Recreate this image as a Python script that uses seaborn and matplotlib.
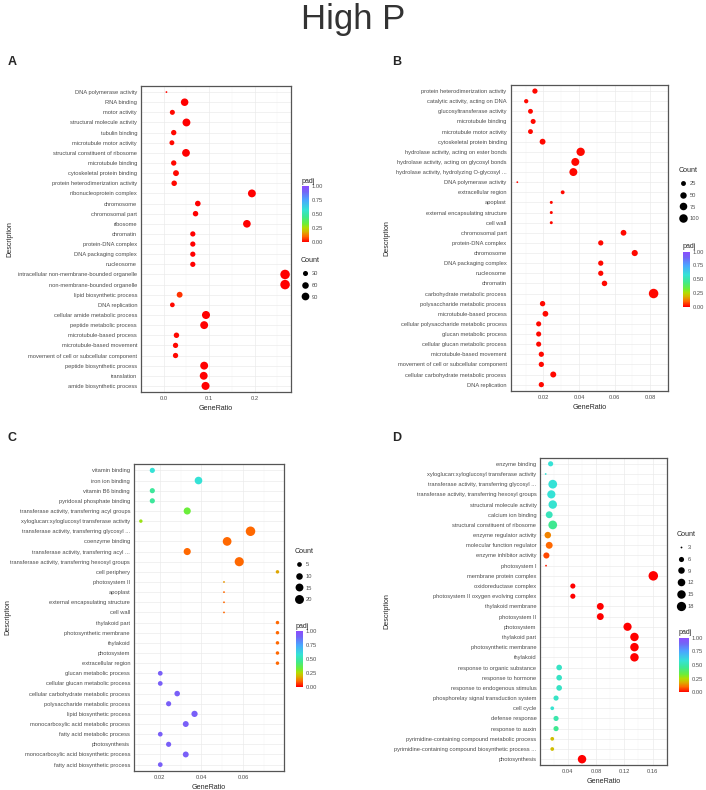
import numpy as np
import pandas as pd
import matplotlib
matplotlib.use("Agg")
import matplotlib.pyplot as plt
import seaborn as sns
from matplotlib.colors import LinearSegmentedColormap, Normalize
from matplotlib.lines import Line2D

# ---------------- data ----------------
a_terms = ["DNA polymerase activity", "RNA binding", "motor activity", "structural molecule activity",
           "tubulin binding", "microtubule motor activity", "structural constituent of ribosome",
           "microtubule binding", "cytoskeletal protein binding", "protein heterodimerization activity",
           "ribonucleoprotein complex", "chromosome", "chromosomal part", "ribosome", "chromatin",
           "protein-DNA complex", "DNA packaging complex", "nucleosome",
           "intracellular non-membrane-bounded organelle", "non-membrane-bounded organelle",
           "lipid biosynthetic process", "DNA replication", "cellular amide metabolic process",
           "peptide metabolic process", "microtubule-based process", "microtubule-based movement",
           "movement of cell or subcellular component", "peptide biosynthetic process", "translation",
           "amide biosynthetic process"]
a_ratio = [0.006, 0.046, 0.019, 0.050, 0.022, 0.018, 0.049, 0.022, 0.027, 0.023,
           0.194, 0.075, 0.070, 0.183, 0.064, 0.064, 0.064, 0.064, 0.267, 0.267,
           0.035, 0.019, 0.093, 0.089, 0.028, 0.026, 0.026, 0.089, 0.088, 0.092]
a_count = [4, 85, 30, 95, 35, 28, 92, 35, 45, 38,
           95, 40, 37, 88, 33, 33, 33, 33, 150, 150,
           45, 25, 100, 96, 37, 34, 34, 96, 95, 100]
a_padj = [0.01, 0.0, 0.01, 0.0, 0.01, 0.01, 0.0, 0.01, 0.01, 0.01,
          0.0, 0.0, 0.0, 0.0, 0.0, 0.0, 0.0, 0.0, 0.0, 0.0,
          0.05, 0.01, 0.0, 0.0, 0.01, 0.01, 0.01, 0.0, 0.0, 0.0]

b_terms = ["protein heterodimerization activity", "catalytic activity, acting on DNA",
           "glucosyltransferase activity", "microtubule binding", "microtubule motor activity",
           "cytoskeletal protein binding", "hydrolase activity, acting on ester bonds",
           "hydrolase activity, acting on glycosyl bonds", "hydrolase activity, hydrolyzing O-glycosyl ...",
           "DNA polymerase activity", "extracellular region", "apoplast", "external encapsulating structure",
           "cell wall", "chromosomal part", "protein-DNA complex", "chromosome", "DNA packaging complex",
           "nucleosome", "chromatin", "carbohydrate metabolic process", "polysaccharide metabolic process",
           "microtubule-based process", "cellular polysaccharide metabolic process", "glucan metabolic process",
           "cellular glucan metabolic process", "microtubule-based movement",
           "movement of cell or subcellular component", "cellular carbohydrate metabolic process",
           "DNA replication"]
b_ratio = [0.0152, 0.0103, 0.0127, 0.0142, 0.0127, 0.0195, 0.0409, 0.0379, 0.0368, 0.0053,
           0.0308, 0.0244, 0.0244, 0.0244, 0.0650, 0.0522, 0.0713, 0.0522, 0.0522, 0.0543,
           0.0819, 0.0195, 0.0211, 0.0173, 0.0173, 0.0173, 0.0188, 0.0188, 0.0255, 0.0188]
b_count = [30, 18, 25, 27, 25, 40, 95, 85, 85, 5,
           14, 8, 8, 8, 38, 30, 45, 30, 30, 34,
           130, 32, 38, 28, 28, 28, 30, 30, 42, 30]
b_padj = [0.01] * 30

c_terms = ["vitamin binding", "iron ion binding", "vitamin B6 binding", "pyridoxal phosphate binding",
           "transferase activity, transferring acyl groups", "xyloglucan:xyloglucosyl transferase activity",
           "transferase activity, transferring glycosyl ...", "coenzyme binding",
           "transferase activity, transferring acyl ...", "transferase activity, transferring hexosyl groups",
           "cell periphery", "photosystem II", "apoplast", "external encapsulating structure", "cell wall",
           "thylakoid part", "photosynthetic membrane", "thylakoid", "photosystem", "extracellular region",
           "glucan metabolic process", "cellular glucan metabolic process",
           "cellular carbohydrate metabolic process", "polysaccharide metabolic process",
           "lipid biosynthetic process", "monocarboxylic acid metabolic process",
           "fatty acid metabolic process", "photosynthesis", "monocarboxylic acid biosynthetic process",
           "fatty acid biosynthetic process"]
c_ratio = [0.0165, 0.0386, 0.0165, 0.0165, 0.0332, 0.0110, 0.0635, 0.0523, 0.0332, 0.0581,
           0.0764, 0.0508, 0.0508, 0.0508, 0.0508, 0.0764, 0.0764, 0.0764, 0.0764, 0.0764,
           0.0203, 0.0203, 0.0284, 0.0243, 0.0367, 0.0325, 0.0203, 0.0243, 0.0325, 0.0203]
c_count = [6, 14, 6, 6, 12, 3, 23, 19, 12, 21,
           3, 2, 2, 2, 2, 3, 3, 3, 3, 3,
           5, 5, 7, 6, 9, 8, 5, 6, 8, 5]
c_padj = [0.58, 0.58, 0.47, 0.47, 0.33, 0.28, 0.10, 0.10, 0.10, 0.10,
          0.17, 0.15, 0.10, 0.10, 0.10, 0.10, 0.10, 0.10, 0.10, 0.10,
          0.92, 0.92, 0.92, 0.92, 0.92, 0.92, 0.92, 0.92, 0.92, 0.92]

d_terms = ["enzyme binding", "xyloglucan:xyloglucosyl transferase activity",
           "transferase activity, transferring glycosyl ...", "transferase activity, transferring hexosyl groups",
           "structural molecule activity", "calcium ion binding", "structural constituent of ribosome",
           "enzyme regulator activity", "molecular function regulator", "enzyme inhibitor activity",
           "photosystem I", "membrane protein complex", "oxidoreductase complex",
           "photosystem II oxygen evolving complex", "thylakoid membrane", "photosystem II", "photosystem",
           "thylakoid part", "photosynthetic membrane", "thylakoid", "response to organic substance",
           "response to hormone", "response to endogenous stimulus", "phosphorelay signal transduction system",
           "cell cycle", "defense response", "response to auxin",
           "pyrimidine-containing compound metabolic process",
           "pyrimidine-containing compound biosynthetic process ...", "photosynthesis"]
d_ratio = [0.0155, 0.0085, 0.0185, 0.0165, 0.0185, 0.0135, 0.0185, 0.0115, 0.0135, 0.0095,
           0.0090, 0.1610, 0.0470, 0.0470, 0.0859, 0.0859, 0.1245, 0.1343, 0.1343, 0.1343,
           0.0276, 0.0276, 0.0276, 0.0232, 0.0178, 0.0232, 0.0232, 0.0178, 0.0178, 0.0600]
d_count = [6, 3, 16, 14, 15, 10, 16, 9, 10, 8,
           3, 19, 6, 6, 10, 10, 14, 15, 15, 15,
           7, 7, 7, 6, 4, 6, 6, 4, 4, 15]
d_padj = [0.58, 0.58, 0.58, 0.58, 0.57, 0.53, 0.45, 0.13, 0.10, 0.07,
          0.03, 0.0, 0.0, 0.0, 0.0, 0.0, 0.0, 0.0, 0.0, 0.0,
          0.55, 0.55, 0.55, 0.55, 0.57, 0.50, 0.45, 0.20, 0.20, 0.0]

# ---------------- style ----------------
W, H = 706, 790
sns.set_style("white")
plt.rcParams["font.family"] = ["Liberation Sans", "DejaVu Sans"]

cmap = LinearSegmentedColormap.from_list(
    "padj",
    list(zip([0, 0.1, 0.18, 0.25, 0.33, 0.45, 0.58, 0.75, 0.9, 1.0],
             ["#ff0000", "#ff6a00", "#d9b000", "#b5dc00", "#6aee3a", "#3fe890",
              "#35e2d6", "#4aa6ff", "#7464f6", "#8c4cff"])))

TXT = "#4d4d4d"
FS_TICK = 4.15
FS_TITLE = 5.1


def fig_rect(left, top, right, bottom):
    return [left / W, 1 - bottom / H, (right - left) / W, (bottom - top) / H]


def size_of(c, lo, hi):
    t = np.clip((c - lo) / (hi - lo), 0, 1)
    d_px = 1.8 + 7.7 * np.sqrt(t)
    return (d_px / (100 / 72)) ** 2


def panel(fig, terms, ratio, count, padj, rect, xticks, xlabels, breaks,
          ylab_x, cnt_pos, bar_rect, label, label_pos):
    df = pd.DataFrame({"Description": terms, "GeneRatio": ratio, "Count": count, "padj": padj})
    ax = fig.add_axes(fig_rect(*rect))
    lo, hi = min(count), max(count)
    sizes = {c: size_of(c, lo, hi) for c in sorted(set(count))}
    sns.scatterplot(data=df, x="GeneRatio", y="Description", hue="padj", size="Count",
                    sizes=sizes, palette=cmap, hue_norm=(0, 1), linewidth=0,
                    legend=False, ax=ax, zorder=3)
    n = len(terms)
    ax.set_ylim(n - 1 + 0.6, -0.6)
    rng = max(ratio) - min(ratio)
    ax.set_xlim(min(ratio) - 0.05 * rng, max(ratio) + 0.05 * rng)
    ax.set_xticks(xticks)
    ax.set_xticklabels(xlabels)
    step = xticks[1] - xticks[0]
    ax.set_xticks(np.arange(xticks[0] - step / 2, xticks[-1] + step, step), minor=True)
    ax.grid(True, which="major", color="#ebebeb", linewidth=0.5)
    ax.grid(True, which="minor", axis="x", color="#f4f4f4", linewidth=0.3)
    ax.set_axisbelow(True)
    for s in ax.spines.values():
        s.set_color("#555555")
        s.set_linewidth(0.9)
    ax.tick_params(which="major", labelsize=FS_TICK, labelcolor=TXT, color="#555555",
                   length=1.8, width=0.4, pad=1)
    ax.tick_params(which="minor", length=0)
    ax.set_xlabel("GeneRatio", fontsize=FS_TITLE, labelpad=3)
    ax.set_ylabel("Description", fontsize=FS_TITLE)
    ax.yaxis.set_label_coords(ylab_x / W, 1 - (rect[1] + rect[3]) / 2 / H, transform=fig.transFigure)

    # size legend
    handles = [Line2D([], [], marker="o", linestyle="", color="black", markeredgewidth=0,
                      markersize=np.sqrt(size_of(b, lo, hi))) for b in breaks]
    leg = ax.legend(handles, [str(b) for b in breaks], title="Count", loc="upper left",
                    bbox_to_anchor=(cnt_pos[0] / W, 1 - cnt_pos[1] / H),
                    bbox_transform=fig.transFigure, frameon=False, fontsize=FS_TICK,
                    title_fontsize=FS_TITLE, labelspacing=1.18, handlelength=1.3,
                    handletextpad=0.6, borderpad=0, borderaxespad=0)
    leg._legend_box.align = "left"
    for t in leg.get_texts():
        t.set_color(TXT)

    # padj colour bar
    cax = fig.add_axes(fig_rect(*bar_rect))
    cb = fig.colorbar(plt.cm.ScalarMappable(norm=Normalize(0, 1), cmap=cmap), cax=cax,
                      ticks=[0, 0.25, 0.5, 0.75, 1])
    cb.ax.set_yticklabels(["0.00", "0.25", "0.50", "0.75", "1.00"])
    cb.outline.set_visible(False)
    cb.ax.tick_params(labelsize=FS_TICK, labelcolor=TXT, color="white", length=1.5,
                      width=0.4, direction="in", pad=2)
    cax.set_title("padj", fontsize=FS_TITLE, loc="left", pad=2.5)

    fig.text(label_pos[0] / W, 1 - label_pos[1] / H, label, fontsize=9, fontweight="bold",
             ha="left", va="center")
    return ax


fig = plt.figure(figsize=(W / 100, H / 100), dpi=100)
fig.text(0.5, 1 - 19 / H, "High P", ha="center", va="center", fontsize=25, color="#333333")

panel(fig, a_terms, a_ratio, a_count, a_padj, (141, 86, 291, 392),
      [0.0, 0.1, 0.2], ["0.0", "0.1", "0.2"], [30, 60, 90],
      13, (301, 257), (302, 186, 309, 242), "A", (8, 62))
panel(fig, b_terms, b_ratio, b_count, b_padj, (510.5, 85, 668, 390.7),
      [0.02, 0.04, 0.06, 0.08], ["0.02", "0.04", "0.06", "0.08"], [25, 50, 75, 100],
      390, (679, 167), (682.7, 251.7, 690, 306.7), "B", (392, 62))
panel(fig, c_terms, c_ratio, c_count, c_padj, (134, 464.3, 284.3, 770.7),
      [0.02, 0.04, 0.06], ["0.02", "0.04", "0.06"], [5, 10, 15, 20],
      11, (295, 548), (296, 631, 303, 686.7), "C", (7, 438))
panel(fig, d_terms, d_ratio, d_count, d_padj, (540.3, 457.7, 666.7, 765.3),
      [0.04, 0.08, 0.12, 0.16], ["0.04", "0.08", "0.12", "0.16"], [3, 6, 9, 12, 15, 18],
      390, (677, 531), (679, 637.7, 689, 692.3), "D", (392, 438))

fig.savefig("out.png", dpi=100)
